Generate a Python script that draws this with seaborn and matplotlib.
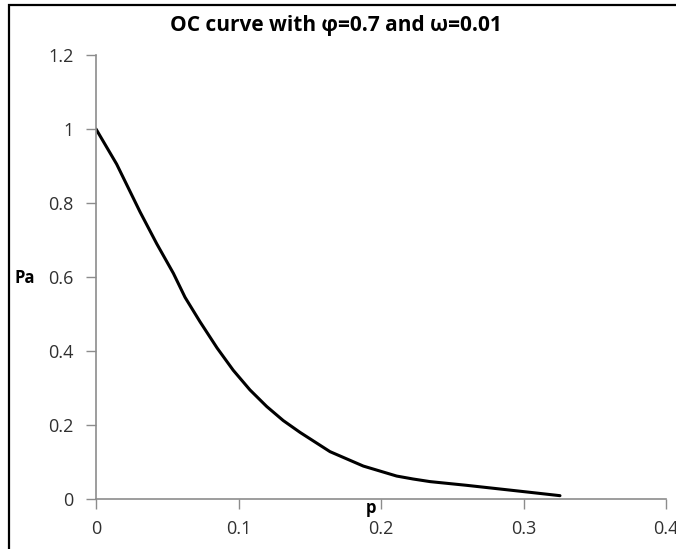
import matplotlib
matplotlib.use("Agg")
import matplotlib.pyplot as plt
import matplotlib.patches as mpatches
import seaborn as sns
import pandas as pd

p_values = [0.0, 0.0145, 0.0309, 0.0426, 0.0543, 0.0625, 0.073, 0.085, 0.0963, 0.108,
            0.1198, 0.1314, 0.1432, 0.1642, 0.1876, 0.211, 0.2226, 0.2344, 0.260, 0.300, 0.3256]
pa_values = [1.0, 0.905, 0.776, 0.690, 0.610, 0.545, 0.479, 0.408, 0.348, 0.295,
             0.250, 0.212, 0.180, 0.128, 0.089, 0.062, 0.054, 0.047, 0.037, 0.020, 0.009]
x_ticks = [0, 0.1, 0.2, 0.3, 0.4]
x_tick_labels = ["0", "0.1", "0.2", "0.3", "0.4"]
y_ticks = [0, 0.2, 0.4, 0.6, 0.8, 1.0, 1.2]
y_tick_labels = ["0", "0.2", "0.4", "0.6", "0.8", "1", "1.2"]
title = "OC curve with \u03c6=0.7 and \u03c9=0.01"

sns.set_theme(style="white")
plt.rcParams["font.family"] = ["Open Sans", "DejaVu Sans"]

df = pd.DataFrame({"p": p_values, "Pa": pa_values})

fig = plt.figure(figsize=(6.76, 5.49), dpi=100)
ax = fig.add_axes([96/676, 1 - 499/549, (666 - 96)/676, (499 - 55)/549])
sns.lineplot(data=df, x="p", y="Pa", ax=ax, color="black", linewidth=2.2,
             solid_joinstyle="round", solid_capstyle="round")

ax.set_xlim(0, 0.4)
ax.set_ylim(0, 1.2)
ax.set_xticks(x_ticks)
ax.set_xticklabels(x_tick_labels)
ax.set_yticks(y_ticks)
ax.set_yticklabels(y_tick_labels)
ax.set_xlabel("")
ax.set_ylabel("")
for s in ["top", "right"]:
    ax.spines[s].set_visible(False)
for s in ["left", "bottom"]:
    ax.spines[s].set_color("#8c8c8c")
    ax.spines[s].set_linewidth(1.2)
ax.tick_params(axis="both", direction="out", length=7, width=1, color="#8c8c8c",
               labelsize=13, labelcolor="#303030", left=True, bottom=True)
ax.tick_params(axis="y", pad=9)
ax.tick_params(axis="x", pad=8)

fig.text(336/676, 1 - 25/549, title, ha="center", va="center",
         fontsize=15, fontweight="bold", color="black")
fig.text(25/676, 1 - 278/549, "Pa", ha="center", va="center",
         fontsize=12, fontweight="bold", color="black")
fig.text(371/676, 1 - 508/549, "p", ha="center", va="center",
         fontsize=12, fontweight="bold", color="black")

border = mpatches.Rectangle((9/676, -0.1), 1.2, 1 - 5/549 + 0.1, fill=False,
                            edgecolor="black", linewidth=1.6,
                            transform=fig.transFigure, clip_on=False)
fig.patches.append(border)

fig.savefig("out.png", dpi=100)
